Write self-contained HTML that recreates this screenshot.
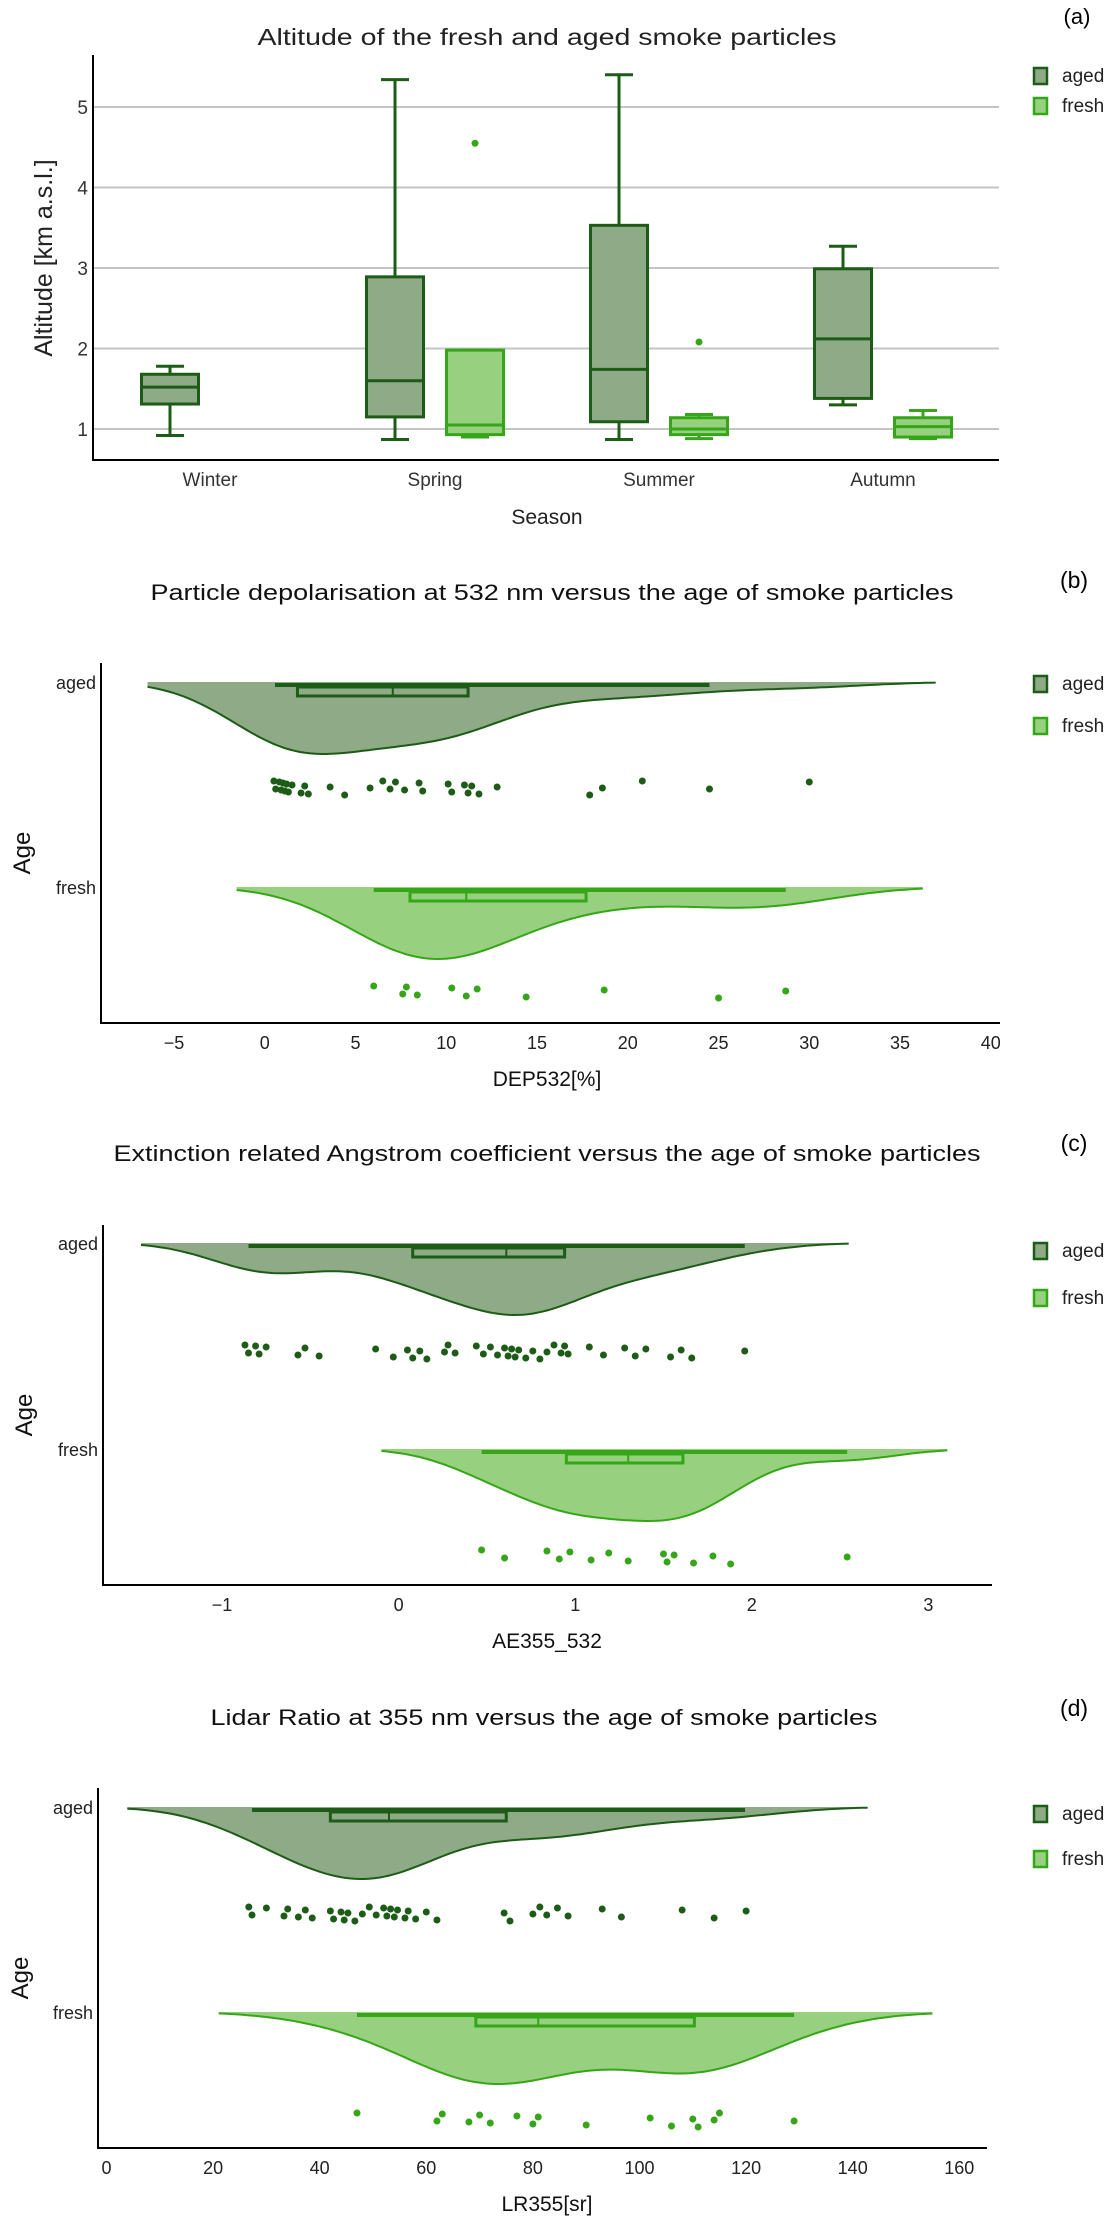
<!DOCTYPE html>
<html><head><meta charset="utf-8"><style>
html,body{margin:0;padding:0;background:#fff;}
svg{display:block;font-family:"Liberation Sans",Arial,sans-serif;}
</style></head><body>
<svg id="fig" width="1112" height="2216" viewBox="0 0 1112 2216" xmlns="http://www.w3.org/2000/svg"></svg>
<script>
// ---------- Panel (a) data ----------
const seasons = ["Winter","Spring","Summer","Autumn"];
const agedLo  = [0.92, 0.87, 0.87, 1.30];
const agedQ1  = [1.31, 1.15, 1.09, 1.38];
const agedMed = [1.52, 1.60, 1.74, 2.12];
const agedQ3  = [1.68, 2.89, 3.53, 2.99];
const agedHi  = [1.78, 5.34, 5.40, 3.27];
const freshLo  = [null, 0.90, 0.88, 0.88];
const freshQ1  = [null, 0.93, 0.93, 0.90];
const freshMed = [null, 1.05, 1.00, 1.03];
const freshQ3  = [null, 1.98, 1.14, 1.14];
const freshHi  = [null, 1.98, 1.18, 1.23];
const freshOutSeason = ["Spring","Summer"];
const freshOutVal = [4.55, 2.08];
const altTicks = [1,2,3,4,5];

// ---------- Panel (b) data: DEP532 ----------
const depAged = [0.5,0.6,0.8,0.9,1.0,1.1,1.2,1.3,1.5,2.0,2.2,2.4,3.6,4.4,5.8,6.5,6.9,7.2,7.7,8.5,8.7,10.1,10.3,11.0,11.2,11.4,11.8,12.8,17.9,18.6,20.8,24.5,30.0];
const depFresh = [6.0,7.6,7.8,8.4,10.3,11.1,11.7,14.4,18.7,25.0,28.7];
const depAgedBox = [0.56,1.8,7.05,11.2,24.5];
const depFreshBox = [6.0,8.0,11.1,17.7,28.7];
const depTicks = [-5,0,5,10,15,20,25,30,35,40];

// ---------- Panel (c) data: AE355_532 ----------
const aeAged = [-0.87,-0.85,-0.81,-0.79,-0.75,-0.57,-0.53,-0.45,-0.13,-0.03,0.05,0.08,0.12,0.16,0.26,0.28,0.32,0.44,0.48,0.52,0.56,0.6,0.62,0.64,0.66,0.68,0.72,0.76,0.8,0.84,0.88,0.92,0.94,0.96,1.08,1.16,1.28,1.34,1.4,1.54,1.6,1.66,1.96];
const aeFresh = [0.47,0.6,0.84,0.91,0.97,1.09,1.19,1.3,1.5,1.52,1.56,1.67,1.78,1.88,2.54];
const aeAgedBox = [-0.85,0.08,0.61,0.94,1.96];
const aeFreshBox = [0.47,0.95,1.3,1.61,2.54];
const aeTicks = [-1,0,1,2,3];

// ---------- Panel (d) data: LR355 ----------
const lrAged = [26.7,27.3,30,33.3,34,36,37.3,38.6,42,42.6,44,44.6,45.3,46.6,48,49.3,50.6,52,52.6,53.3,54,54.6,56,56.6,58,60,62,74.6,75.7,80,81.3,82.6,84.6,86.6,93,96.6,108,114,120];
const lrFresh = [47,62,63,68,70,72,77,80,81,90,102,106,110,111,114,115,129];
const lrAgedBox = [27.3,42,53,75,119.8];
const lrFreshBox = [47,69.3,81,110.3,129];
const lrTicks = [0,20,40,60,80,100,120,140,160];

const NS="http://www.w3.org/2000/svg";
const svg=document.getElementById('fig');
const C={aFill:"#8eaa86",aLine:"#1d5c16",fFill:"#97d07e",fLine:"#35a618"};
function mk(tag,attrs,parent,text){
  const e=document.createElementNS(NS,tag);
  for(const k in attrs) e.setAttribute(k,attrs[k]);
  if(text!==undefined) e.textContent=text;
  (parent||svg).appendChild(e);
  return e;
}

// ================= Panel (a) =================
const gA=mk('g',{});


const ay=v=>429-(v-1)*80.5;
const catX={Winter:210,Spring:435,Summer:659,Autumn:883};
let t;
t=mk('text',{x:547,y:45,'text-anchor':'middle','font-size':23,fill:'#222',textLength:579,lengthAdjust:'spacingAndGlyphs'},gA,'Altitude of the fresh and aged smoke particles');


t=mk('text',{x:1077,y:24,'text-anchor':'middle','font-size':22,fill:'#000'},gA,'(a)');


altTicks.forEach(v=>{
  const l=mk('line',{x1:94,x2:999,y1:ay(v),y2:ay(v),stroke:'#c4c4c4','stroke-width':2},gA);
  
  
  const tx=mk('text',{x:88,y:ay(v)+7,'text-anchor':'end','font-size':19,fill:'#333'},gA,String(v));
  
  
});
let ax=mk('path',{d:'M93,55 V460 H999',fill:'none',stroke:'#000','stroke-width':2},gA);


seasons.forEach(s=>{
  const tx=mk('text',{x:catX[s],y:486,'text-anchor':'middle','font-size':19,fill:'#333'},gA,s);
  
  
});
t=mk('text',{x:547,y:524,'text-anchor':'middle','font-size':21,fill:'#222'},gA,'Season');


t=mk('text',{x:0,y:0,'text-anchor':'middle','font-size':25,fill:'#222',transform:'translate(52,258) rotate(-90)'},gA,'Altitude [km a.s.l.]');


function boxA(cx,lo,q1,md,q3,hi,fill,line,name){
  const g=mk('g',{},gA);
  
  
  const w=57,cw=28;
  mk('line',{x1:cx,x2:cx,y1:ay(hi),y2:ay(q3),stroke:line,'stroke-width':3},g);
  mk('line',{x1:cx,x2:cx,y1:ay(q1),y2:ay(lo),stroke:line,'stroke-width':3},g);
  mk('line',{x1:cx-cw/2,x2:cx+cw/2,y1:ay(hi),y2:ay(hi),stroke:line,'stroke-width':3},g);
  mk('line',{x1:cx-cw/2,x2:cx+cw/2,y1:ay(lo),y2:ay(lo),stroke:line,'stroke-width':3},g);
  mk('rect',{x:cx-w/2,y:ay(q3),width:w,height:ay(q1)-ay(q3),fill:fill,stroke:line,'stroke-width':3},g);
  mk('line',{x1:cx-w/2,x2:cx+w/2,y1:ay(md),y2:ay(md),stroke:line,'stroke-width':3},g);
}
seasons.forEach((s,i)=>{
  boxA(catX[s]-40,agedLo[i],agedQ1[i],agedMed[i],agedQ3[i],agedHi[i],C.aFill,C.aLine,'box-aged-'+s.toLowerCase());
  if(freshLo[i]!==null) boxA(catX[s]+40,freshLo[i],freshQ1[i],freshMed[i],freshQ3[i],freshHi[i],C.fFill,C.fLine,'box-fresh-'+s.toLowerCase());
});
freshOutSeason.forEach((s,i)=>{
  const c=mk('circle',{cx:catX[s]+40,cy:ay(freshOutVal[i]),r:3.5,fill:C.fLine},gA);
  
  
});
function legend(g,yA,yF,tag){
  [[yA,'aged',C.aFill,C.aLine],[yF,'fresh',C.fFill,C.fLine]].forEach(([y,lab,f,l])=>{
    const lg=mk('g',{},g);
    
    
    mk('rect',{x:1034,y:y-7,width:13,height:16,fill:f,stroke:l,'stroke-width':2.5},lg);
    mk('text',{x:1062,y:y+7,'font-size':19,fill:'#222'},lg,lab);
  });
}
legend(gA,75,105,'a');

// ================= Violin panels =================
function silverman(d){
  const n=d.length,m=d.reduce((a,b)=>a+b,0)/n;
  const sd=Math.sqrt(d.reduce((a,b)=>a+(b-m)*(b-m),0)/(n-1));
  const s=[...d].sort((a,b)=>a-b);
  const q=p=>{const i=(n-1)*p,lo=Math.floor(i);return s[lo]+(s[Math.min(lo+1,n-1)]-s[lo])*(i-lo);};
  const iqr=(q(0.75)-q(0.25))/1.349;
  return 0.92*1.059*Math.min(sd,iqr>0?iqr:sd)*Math.pow(n,-0.2);
}
function violinPanel(P){
  const g=mk('g',{});
  
  
  const xs=v=>P.x0+P.k*v;
  t=mk('text',{x:P.titleX,y:P.titleY,'text-anchor':'middle','font-size':22,fill:'#111',textLength:P.titleW,lengthAdjust:'spacingAndGlyphs'},g,P.title);
  
  
  t=mk('text',{x:1074,y:P.labY+8,'text-anchor':'middle','font-size':23,fill:'#000'},g,P.lab);
  
  
  const a=mk('path',{d:`M${P.yx},${P.top} V${P.bot} H${P.right}`,fill:'none',stroke:'#000','stroke-width':2},g);
  
  
  P.ticks.forEach(v=>{
    const tx=mk('text',{x:xs(v),y:P.bot+26,'text-anchor':'middle','font-size':18,fill:'#222'},g,(v<0?'\u2212'+Math.abs(v):String(v)));
    
    
  });
  t=mk('text',{x:547,y:P.bot+63,'text-anchor':'middle','font-size':21,fill:'#111'},g,P.xtitle);
  
  
  t=mk('text',{x:0,y:0,'text-anchor':'middle','font-size':24,fill:'#111',transform:`translate(${P.ageX},${(P.top+P.bot)/2+10}) rotate(-90)`},g,'Age');
  
  
  [['aged',P.bA,P.rA,P.aged,P.agedBox,C.aFill,C.aLine],['fresh',P.bF,P.rF,P.fresh,P.freshBox,C.fFill,C.fLine]].forEach(([lab,base,row,data,bx,fill,line])=>{
    const cl=mk('text',{x:P.yx-5,y:base+7,'text-anchor':'end','font-size':18,fill:'#222'},g,lab);
    
    
    const bw=silverman(data);
    const lo=Math.min(...data)-2*bw,hi=Math.max(...data)+2*bw;
    const N=150,pts=[];let mx=0;
    for(let i=0;i<=N;i++){
      const v=lo+(hi-lo)*i/N;let d=0;
      data.forEach(p=>{const z=(v-p)/bw;d+=Math.exp(-0.5*z*z);});
      pts.push([v,d]);if(d>mx)mx=d;
    }
    let dp=`M${xs(lo).toFixed(1)},${base}`;
    pts.forEach(([v,d])=>{dp+=` L${xs(v).toFixed(1)},${(base+72*d/mx).toFixed(1)}`;});
    dp+=` L${xs(hi).toFixed(1)},${base} Z`;
    const vio=mk('path',{d:dp,fill:fill,stroke:'none'},g);
    
    
    let lp='';
    pts.forEach(([v,d],i)=>{lp+=(i?' L':'M')+xs(v).toFixed(1)+','+(base+72*d/mx).toFixed(1);});
    const vl=mk('path',{d:lp,fill:'none',stroke:line,'stroke-width':2},g);
    
    
    const bg=mk('g',{},g);
    
    
    mk('line',{x1:xs(bx[0]),x2:xs(bx[4]),y1:base+3,y2:base+3,stroke:line,'stroke-width':4},bg);
    mk('rect',{x:xs(bx[1]),y:base+5,width:xs(bx[3])-xs(bx[1]),height:9,fill:fill,stroke:line,'stroke-width':3},bg);
    mk('line',{x1:xs(bx[2]),x2:xs(bx[2]),y1:base+5,y2:base+14,stroke:line,'stroke-width':2},bg);
    const pg=mk('g',{},g);
    
    
    data.forEach((v,i)=>{
      const c=mk('circle',{cx:xs(v),cy:row+((i*53)%15-7),r:3.5,fill:line},pg);
      
      
    });
  });
  legend(g,P.legA,P.legF,P.lab);
}
violinPanel({name:'panel-b-depolarisation',title:'Particle depolarisation at 532 nm versus the age of smoke particles',titleX:552,titleY:600,titleW:803,lab:'(b)',labY:580,
  x0:264.8,k:18.15,yx:101,top:663,bot:1023,right:1000,ticks:depTicks,xtitle:'DEP532[%]',ageX:30,
  bA:682,bF:887,rA:788,rF:993,aged:depAged,fresh:depFresh,agedBox:depAgedBox,freshBox:depFreshBox,legA:683,legF:725});
violinPanel({name:'panel-c-angstrom',title:'Extinction related Angstrom coefficient versus the age of smoke particles',titleX:547,titleY:1161,titleW:867,lab:'(c)',labY:1143,
  x0:398.6,k:176.6,yx:103,top:1225,bot:1585,right:992,ticks:aeTicks,xtitle:'AE355_532',ageX:32,
  bA:1243,bF:1449,rA:1352,rF:1557,aged:aeAged,fresh:aeFresh,agedBox:aeAgedBox,freshBox:aeFreshBox,legA:1250,legF:1297});
violinPanel({name:'panel-d-lidar-ratio',title:'Lidar Ratio at 355 nm versus the age of smoke particles',titleX:544,titleY:1725,titleW:667,lab:'(d)',labY:1708,
  x0:106.5,k:5.33,yx:98,top:1788,bot:2148,right:987,ticks:lrTicks,xtitle:'LR355[sr]',ageX:28,
  bA:1807,bF:2012,rA:1914,rF:2120,aged:lrAged,fresh:lrFresh,agedBox:lrAgedBox,freshBox:lrFreshBox,legA:1813,legF:1858});
</script>
</body></html>
